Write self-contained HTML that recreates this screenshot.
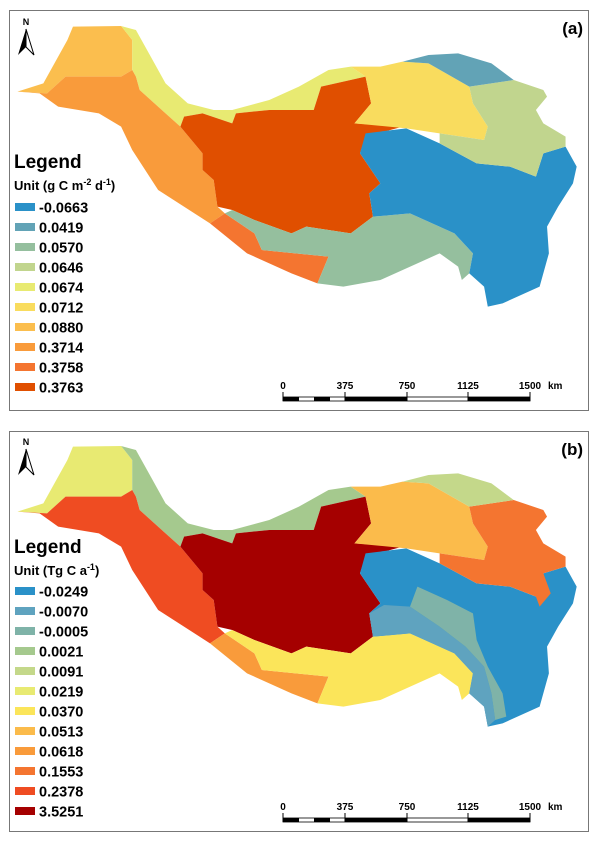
<!DOCTYPE html>
<html><head><meta charset="utf-8"><style>
body{margin:0;background:#fff;}
svg text{font-family:"Liberation Sans",Arial,sans-serif;font-weight:bold;}
</style></head><body>
<svg width="600" height="843" viewBox="0 0 600 843" xmlns="http://www.w3.org/2000/svg">
<rect width="600" height="843" fill="#fff"/>
<!-- Panel A -->
<rect x="9.5" y="10.5" width="579" height="400" fill="none" stroke="#777" stroke-width="1"/>
<g transform="translate(10,20) scale(0.37037,0.33333)">
<polygon fill="#fbbe4e" points="20,215 90,190 155,60 170,20 300,18 330,60 330,150 300,170 150,170 100,220"/>
<polygon fill="#e8ea72" points="300,18 340,30 380,110 420,190 480,250 550,270 600,270 700,240 780,200 860,150 920,140 960,170 840,200 820,270 700,270 610,280 600,310 520,280 470,290 460,320 420,280 350,210 340,170 330,150 330,60"/>
<polygon fill="#f99b3b" points="100,220 150,170 300,170 330,150 340,170 350,210 420,280 460,320 520,400 520,450 550,480 560,560 580,580 540,610 400,510 330,390 300,320 240,280 130,260 80,220 20,215"/>
<polygon fill="#e04f00" points="460,320 470,290 520,280 600,310 610,280 700,270 820,270 840,200 960,170 975,250 930,310 1060,320 960,350 945,400 1000,490 970,520 980,590 920,640 800,620 760,640 660,600 600,570 560,560 550,480 520,450 520,400"/>
<polygon fill="#f47530" points="400,510 540,610 580,580 660,640 680,690 860,710 830,790 760,760 640,700 540,610"/>
<polygon fill="#95bf9e" points="580,580 600,570 660,600 760,640 800,620 920,640 980,590 1080,580 1200,640 1250,700 1240,760 1220,780 1210,740 1160,700 1100,730 1000,780 900,800 830,790 860,710 680,690 660,640"/>
<polygon fill="#2a91c8" points="960,340 1070,325 1160,370 1260,430 1350,440 1420,470 1440,400 1500,380 1530,440 1520,490 1480,560 1450,620 1455,700 1430,800 1330,850 1290,860 1280,800 1240,760 1250,700 1200,640 1080,580 980,590 970,520 1000,490 945,400"/>
<polygon fill="#f9dc5e" points="920,140 1000,140 1060,125 1130,130 1240,200 1250,250 1290,320 1280,360 1160,340 1070,325 930,310 975,250 960,170"/>
<polygon fill="#c1d58e" points="1240,200 1360,180 1440,210 1450,230 1420,270 1440,310 1500,350 1500,380 1440,400 1420,470 1350,440 1260,430 1160,370 1160,340 1280,360 1290,320 1250,250"/>
<polygon fill="#62a3b6" points="1060,125 1130,105 1210,100 1300,130 1360,180 1240,200 1130,130"/>
</g>
<g transform="translate(26,17)">
<text x="0" y="8" font-size="9" text-anchor="middle" font-weight="normal">N</text>
<polygon points="0,12 -8,38 0,30" fill="#000"/><polygon points="0,12 8,38 0,30" fill="#fff" stroke="#000" stroke-width="1"/>
</g>
<text x="583" y="34" font-size="17" text-anchor="end">(a)</text>
<text x="14" y="168" font-size="19">Legend</text>
<text x="14" y="190" font-size="13">Unit (g C m<tspan font-size="9" dy="-5">-2</tspan><tspan dy="5"> d</tspan><tspan font-size="9" dy="-5">-1</tspan><tspan dy="5">)</tspan></text>
<g font-size="14.5">
<rect x="15" y="203" width="20" height="8" fill="#2a91c8"/><text x="39" y="212.5">-0.0663</text>
<rect x="15" y="223" width="20" height="8" fill="#62a3b6"/><text x="39" y="232.5">0.0419</text>
<rect x="15" y="243" width="20" height="8" fill="#95bf9e"/><text x="39" y="252.5">0.0570</text>
<rect x="15" y="263" width="20" height="8" fill="#c1d58e"/><text x="39" y="272.5">0.0646</text>
<rect x="15" y="283" width="20" height="8" fill="#e8ea72"/><text x="39" y="292.5">0.0674</text>
<rect x="15" y="303" width="20" height="8" fill="#f9dc5e"/><text x="39" y="312.5">0.0712</text>
<rect x="15" y="323" width="20" height="8" fill="#fbbe4e"/><text x="39" y="332.5">0.0880</text>
<rect x="15" y="343" width="20" height="8" fill="#f99b3b"/><text x="39" y="352.5">0.3714</text>
<rect x="15" y="363" width="20" height="8" fill="#f47530"/><text x="39" y="372.5">0.3758</text>
<rect x="15" y="383" width="20" height="8" fill="#e04f00"/><text x="39" y="392.5">0.3763</text>
</g>
<g font-size="10">
<text x="283" y="389" text-anchor="middle">0</text><text x="345" y="389" text-anchor="middle">375</text><text x="407" y="389" text-anchor="middle">750</text><text x="468" y="389" text-anchor="middle">1125</text><text x="530" y="389" text-anchor="middle">1500</text><text x="548" y="389">km</text>
<rect x="283" y="397" width="247" height="4" fill="#fff" stroke="#000" stroke-width="0.8"/>
<rect x="283" y="397" width="16" height="4"/><rect x="314" y="397" width="16" height="4"/><rect x="345" y="397" width="62" height="4"/><rect x="468" y="397" width="62" height="4"/>
<line x1="345" y1="392" x2="345" y2="401" stroke="#000"/><line x1="407" y1="392" x2="407" y2="401" stroke="#000"/><line x1="468" y1="392" x2="468" y2="401" stroke="#000"/><line x1="530" y1="392" x2="530" y2="401" stroke="#000"/><line x1="283" y1="392" x2="283" y2="401" stroke="#000"/>
</g>

<!-- Panel B -->
<rect x="9.5" y="431.5" width="579" height="400" fill="none" stroke="#777" stroke-width="1"/>
<g transform="translate(10,440) scale(0.37037,0.33333)">
<polygon fill="#e8ea72" points="20,215 90,190 155,60 170,20 300,18 330,60 330,150 300,170 150,170 100,220"/>
<polygon fill="#a5c98e" points="300,18 340,30 380,110 420,190 480,250 550,270 600,270 700,240 780,200 860,150 920,140 960,170 840,200 820,270 700,270 610,280 600,310 520,280 470,290 460,320 420,280 350,210 340,170 330,150 330,60"/>
<polygon fill="#ef4c22" points="100,220 150,170 300,170 330,150 340,170 350,210 420,280 460,320 520,400 520,450 550,480 560,560 580,580 540,610 400,510 330,390 300,320 240,280 130,260 80,220 20,215"/>
<polygon fill="#a50000" points="460,320 470,290 520,280 600,310 610,280 700,270 820,270 840,200 960,170 975,250 930,310 1060,320 960,350 945,400 1000,490 970,520 980,590 920,640 800,620 760,640 660,600 600,570 560,560 550,480 520,450 520,400"/>
<polygon fill="#f99b3b" points="400,510 540,610 580,580 660,640 680,690 860,710 830,790 760,760 640,700 540,610"/>
<polygon fill="#fbe55a" points="580,580 600,570 660,600 760,640 800,620 920,640 980,590 1080,580 1200,640 1250,700 1240,760 1220,780 1210,740 1160,700 1100,730 1000,780 900,800 830,790 860,710 680,690 660,640"/>
<polygon fill="#2a91c8" points="960,340 1070,325 1160,370 1260,430 1350,440 1420,470 1440,400 1500,380 1530,440 1520,490 1480,560 1450,620 1455,700 1430,800 1330,850 1290,860 1280,800 1240,760 1250,700 1200,640 1080,580 980,590 970,520 1000,490 945,400"/>
<polygon fill="#5fa3bf" points="970,520 1010,495 1080,500 1160,560 1230,620 1280,680 1300,760 1310,840 1290,860 1280,800 1240,760 1250,700 1200,640 1080,580 980,590"/>
<polygon fill="#7fb3a8" points="1080,500 1100,440 1180,480 1250,520 1260,600 1290,680 1330,760 1340,830 1310,840 1300,760 1280,680 1230,620 1160,560"/>
<polygon fill="#fbbb4b" points="920,140 1000,140 1060,125 1130,130 1240,200 1250,250 1290,320 1280,360 1160,340 1070,325 930,310 975,250 960,170"/>
<polygon fill="#f47530" points="1240,200 1360,180 1440,210 1450,230 1420,270 1440,310 1500,350 1500,380 1440,400 1460,460 1430,500 1420,470 1350,440 1260,430 1160,370 1160,340 1280,360 1290,320 1250,250"/>
<polygon fill="#c4d88a" points="1060,125 1130,105 1210,100 1300,130 1360,180 1240,200 1130,130"/>
</g>
<g transform="translate(26,437)">
<text x="0" y="8" font-size="9" text-anchor="middle" font-weight="normal">N</text>
<polygon points="0,12 -8,38 0,30" fill="#000"/><polygon points="0,12 8,38 0,30" fill="#fff" stroke="#000" stroke-width="1"/>
</g>
<text x="583" y="455" font-size="17" text-anchor="end">(b)</text>
<text x="14" y="553" font-size="19">Legend</text>
<text x="14" y="575" font-size="13">Unit (Tg C a<tspan font-size="9" dy="-5">-1</tspan><tspan dy="5">)</tspan></text>
<g font-size="14.5">
<rect x="15" y="587" width="20" height="8" fill="#2a91c8"/><text x="39" y="596.5">-0.0249</text>
<rect x="15" y="607" width="20" height="8" fill="#5fa3bf"/><text x="39" y="616.5">-0.0070</text>
<rect x="15" y="627" width="20" height="8" fill="#7fb3a8"/><text x="39" y="636.5">-0.0005</text>
<rect x="15" y="647" width="20" height="8" fill="#a5c98e"/><text x="39" y="656.5">0.0021</text>
<rect x="15" y="667" width="20" height="8" fill="#c4d88a"/><text x="39" y="676.5">0.0091</text>
<rect x="15" y="687" width="20" height="8" fill="#e8ea72"/><text x="39" y="696.5">0.0219</text>
<rect x="15" y="707" width="20" height="8" fill="#fbe55a"/><text x="39" y="716.5">0.0370</text>
<rect x="15" y="727" width="20" height="8" fill="#fbbb4b"/><text x="39" y="736.5">0.0513</text>
<rect x="15" y="747" width="20" height="8" fill="#f99b3b"/><text x="39" y="756.5">0.0618</text>
<rect x="15" y="767" width="20" height="8" fill="#f47530"/><text x="39" y="776.5">0.1553</text>
<rect x="15" y="787" width="20" height="8" fill="#ef4c22"/><text x="39" y="796.5">0.2378</text>
<rect x="15" y="807" width="20" height="8" fill="#a50000"/><text x="39" y="816.5">3.5251</text>
</g>
<g transform="translate(0,421)" font-size="10">
<text x="283" y="389" text-anchor="middle">0</text><text x="345" y="389" text-anchor="middle">375</text><text x="407" y="389" text-anchor="middle">750</text><text x="468" y="389" text-anchor="middle">1125</text><text x="530" y="389" text-anchor="middle">1500</text><text x="548" y="389">km</text>
<rect x="283" y="397" width="247" height="4" fill="#fff" stroke="#000" stroke-width="0.8"/>
<rect x="283" y="397" width="16" height="4"/><rect x="314" y="397" width="16" height="4"/><rect x="345" y="397" width="62" height="4"/><rect x="468" y="397" width="62" height="4"/>
<line x1="345" y1="392" x2="345" y2="401" stroke="#000"/><line x1="407" y1="392" x2="407" y2="401" stroke="#000"/><line x1="468" y1="392" x2="468" y2="401" stroke="#000"/><line x1="530" y1="392" x2="530" y2="401" stroke="#000"/><line x1="283" y1="392" x2="283" y2="401" stroke="#000"/>
</g>
</svg>
</body></html>
